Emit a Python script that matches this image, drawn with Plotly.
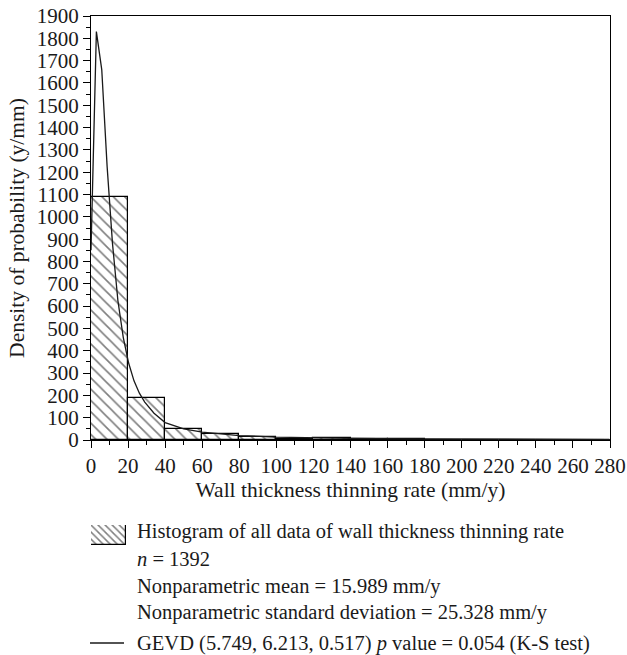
import plotly.graph_objects as go

# Histogram bins (mm/y) and counts per bin
bin_left = [0, 20, 40, 60, 80, 100, 120, 140, 160, 180, 200, 220, 240, 260]
bin_width = 20
bin_height = [1090, 190, 51, 27, 12, 4, 9, 3, 3, 1, 1, 0.5, 1, 0.5]

# Fitted GEVD curve (scaled to histogram counts)
curve_x = [0, 2.9, 5.8, 8.7, 11.6, 14.5, 17.4, 20.3, 23.2, 26.1, 29, 34, 40,
           50, 60, 70, 80, 100, 120, 140, 170, 200, 240, 280]
curve_y = [850, 1830, 1660, 1225, 880, 625, 460, 345, 265, 210, 170, 120, 78,
           50, 35, 26, 20, 13, 9, 7, 5, 3.5, 2.5, 2]

legend_lines = [
    "Histogram of all data of wall thickness thinning rate",
    "<i>n</i> = 1392",
    "Nonparametric mean = 15.989 mm/y",
    "Nonparametric standard deviation = 25.328 mm/y",
]
fit_label = "GEVD (5.749, 6.213, 0.517) <i>p</i> value = 0.054 (K-S test)"

FONT = "Liberation Serif"
TICK_FS = 21
TITLE_FS = 21.5
LEG_FS = 20.5
INK = "#1a1a1a"
W, H = 627, 655
ML, MR, MT, MB = 91, 17, 16, 6
PW, PH = W - ML - MR, H - MT - MB


def px(x):
    return (x - ML) / PW


def py(y):
    return (H - MB - y) / PH


hatch = dict(shape="\\", fgcolor="black", bgcolor="white", size=8, solidity=0.2)

fig = go.Figure()
fig.add_trace(go.Bar(
    x=[b + bin_width / 2 for b in bin_left], y=bin_height, width=bin_width,
    marker=dict(color="white", line=dict(color="black", width=1.2), pattern=hatch),
    showlegend=False, xaxis="x", yaxis="y",
))
fig.add_trace(go.Scatter(
    x=curve_x, y=curve_y, mode="lines", line=dict(color=INK, width=1.3),
    showlegend=False, xaxis="x", yaxis="y",
))
# hatched legend swatch
fig.add_trace(go.Bar(
    x=[0.5], y=[1], width=1,
    marker=dict(color="white", line=dict(color="black", width=1.2),
                pattern=dict(shape="\\", fgcolor="black", bgcolor="white",
                             size=5, solidity=0.3)),
    showlegend=False, xaxis="x2", yaxis="y2", hoverinfo="skip",
))

axis_common = dict(
    showline=True, linecolor="black", linewidth=1.3, mirror=True,
    ticks="outside", ticklen=7, tickwidth=1.2, tickcolor="black",
    showgrid=False, zeroline=False, automargin=False,
    tickfont=dict(family=FONT, size=TICK_FS, color=INK),
)

fig.update_layout(
    width=W, height=H,
    margin=dict(l=ML, r=MR, t=MT, b=MB),
    paper_bgcolor="white", plot_bgcolor="white",
    font=dict(family=FONT, size=TICK_FS, color=INK),
    bargap=0,
    xaxis=dict(
        range=[0, 280], dtick=20, tick0=0, domain=[0, 1],
        minor=dict(dtick=10, ticks="outside", ticklen=4, tickcolor="black"),
        title=dict(text="Wall thickness thinning rate (mm/y)",
                   font=dict(family=FONT, size=TITLE_FS, color=INK), standoff=4),
        anchor="y", **axis_common,
    ),
    yaxis=dict(
        range=[0, 1900], dtick=100, tick0=0, domain=[py(440), 1],
        minor=dict(dtick=50, ticks="outside", ticklen=4, tickcolor="black"),
        title=dict(text="Density of probability (y/mm)",
                   font=dict(family=FONT, size=TITLE_FS, color=INK), standoff=6),
        anchor="x", **axis_common,
    ),
    xaxis2=dict(domain=[px(91), px(126)], range=[0, 1], visible=False,
                anchor="y2", fixedrange=True),
    yaxis2=dict(domain=[py(545), py(525)], range=[0, 1], visible=False,
                anchor="x2", fixedrange=True),
)

row_y = [531, 559, 586, 612]
for text, y in zip(legend_lines, row_y):
    fig.add_annotation(x=px(135), y=py(y), xref="paper", yref="paper",
                       text=text, showarrow=False, xanchor="left",
                       yanchor="middle", font=dict(family=FONT, size=LEG_FS, color=INK))
fig.add_annotation(x=px(135), y=py(643), xref="paper", yref="paper",
                   text=fit_label, showarrow=False, xanchor="left",
                   yanchor="middle", font=dict(family=FONT, size=LEG_FS, color=INK))
fig.add_shape(type="line", xref="paper", yref="paper",
              x0=px(90), x1=px(124), y0=py(643), y1=py(643),
              line=dict(color=INK, width=1.3))

fig.write_html("out.html")
